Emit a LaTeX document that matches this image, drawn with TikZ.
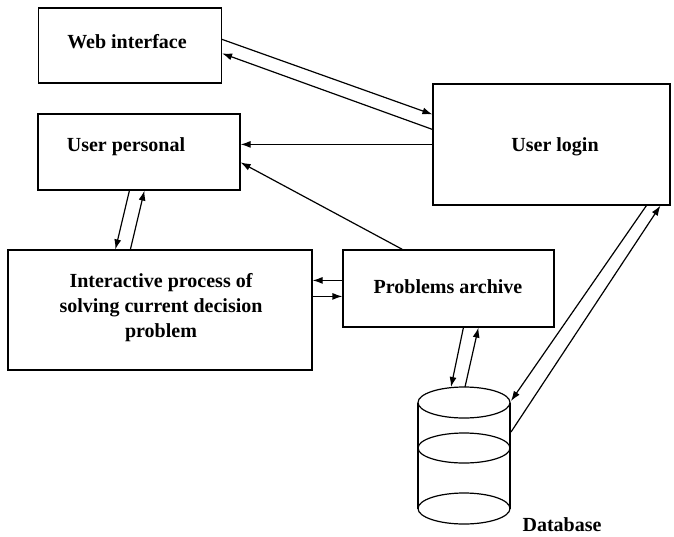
\documentclass[tikz,border=0pt]{standalone}
\usepackage{fontspec}
\setmainfont{Liberation Serif}
\usetikzlibrary{arrows.meta}
\tikzset{
  box/.style={draw, line width=1.2pt, rectangle, inner sep=0pt},
  lbl/.style={font=\fontsize{20}{25}\selectfont\bfseries, align=center, inner sep=0pt},
  arr/.style={line width=1.2pt, -{Latex[length=10pt,width=7pt]}},
  cyl/.style={line width=1.2pt}
}
\begin{document}
\begin{tikzpicture}[x=1pt,y=-1pt]
\useasboundingbox (0,0) rectangle (674,536);
% boxes
\node[box, minimum width=183pt, minimum height=75pt] (web) at (130,45.5) {};
\node[box, minimum width=202pt, minimum height=76pt] (user) at (139,152) {};
\node[box, minimum width=237pt, minimum height=121pt] (login) at (551.5,144.5) {};
\node[box, minimum width=304pt, minimum height=120pt] (inter) at (160,310) {};
\node[box, minimum width=211pt, minimum height=77pt] (prob) at (448.5,288.5) {};
% labels
\node[lbl] (webT) at (127,42) {Web interface};
\node[lbl] (userT) at (126,147) {User personal};
\node[lbl] (loginT) at (555,147) {User login};
\node[lbl] (interT) at (161,308) {Interactive process of\\solving current decision\\problem};
\node[lbl] (probT) at (448,287) {Problems archive};
\node[lbl, anchor=base] (dbT) at (562,531) {Database};
% database cylinder
\draw[cyl] (464,402.5) ellipse [x radius=46, y radius=15.5];
\draw[cyl] (464,448) ellipse [x radius=46, y radius=15];
\draw[cyl] (464,508.5) ellipse [x radius=46, y radius=15.5];
\draw[cyl] (418,402.5) -- (418,508.5);
\draw[cyl] (510,402.5) -- (510,508.5);
\coordinate (db1) at (451,387);
\coordinate (db2) at (465,387);
\coordinate (db3) at (511,401);
\coordinate (db4) at (511,432);
% connectors
\draw[arr] ([yshift=-32pt]web.north east) -- ([yshift=-31pt]login.north west);
\draw[arr] ([yshift=-46pt]login.north west) -- ([yshift=-46pt]web.north east);
\draw[arr] ([yshift=-61pt]login.north west) -- ([yshift=-31pt]user.north east);
\draw[arr] ([xshift=60pt]prob.north west) -- ([yshift=-49pt]user.north east);
\draw[arr] ([xshift=92pt]user.south west) -- ([xshift=108pt]inter.north west);
\draw[arr] ([xshift=123pt]inter.north west) -- ([xshift=107pt]user.south west);
\draw[arr] ([yshift=-31pt]prob.north west) -- ([yshift=-31pt]inter.north east);
\draw[arr] ([yshift=-47pt]inter.north east) -- ([yshift=-47pt]prob.north west);
\draw[arr] ([xshift=121pt]prob.south west) -- (db1);
\draw[arr] (db2) -- ([xshift=136pt]prob.south west);
\draw[arr] ([xshift=214pt]login.south west) -- (db3);
\draw[arr] (db4) -- ([xshift=228pt]login.south west);
\end{tikzpicture}
\end{document}
